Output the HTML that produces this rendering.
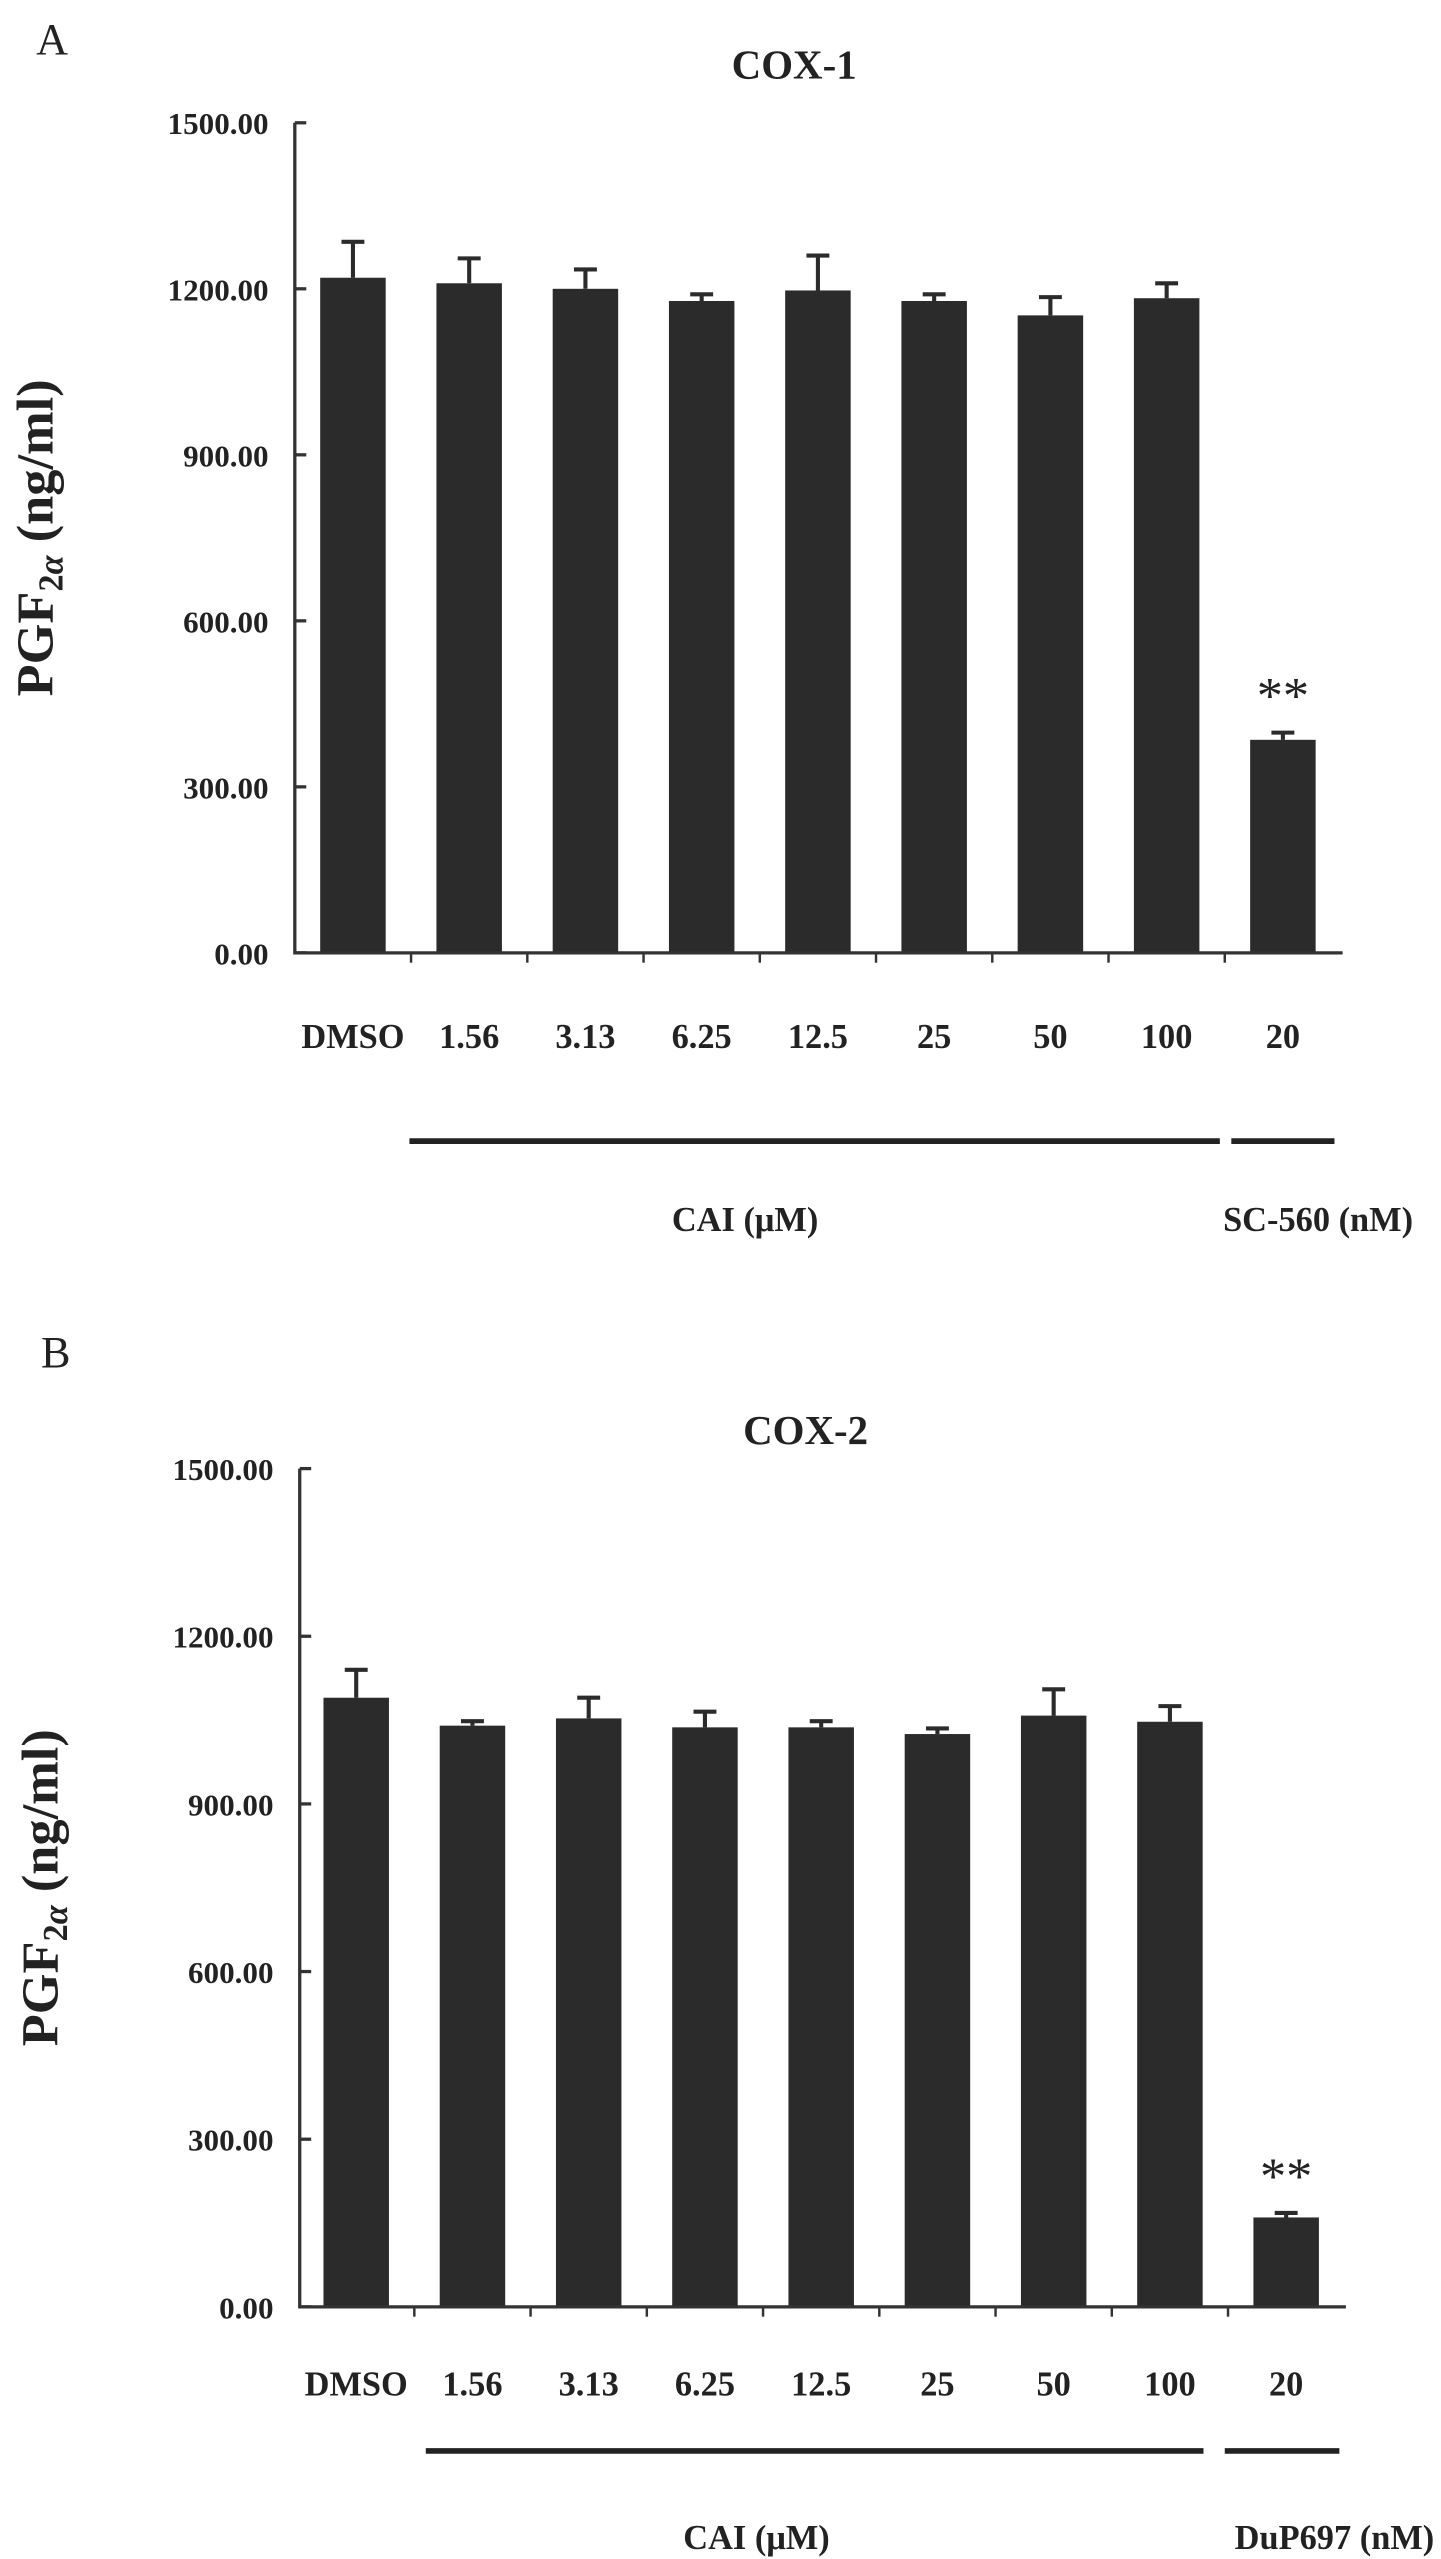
<!DOCTYPE html>
<html><head><meta charset="utf-8"><style>
html,body{margin:0;padding:0;background:#fff;}
svg{display:block;font-family:"Liberation Serif",serif;}
</style></head><body>
<svg id="fig" width="1441" height="2559" viewBox="0 0 880 1563"></svg>
<script>
const categories=["DMSO","1.56","3.13","6.25","12.5","25","50","100","20"];
const cox1Values=[1220,1210,1200,1178,1197,1178,1152,1183,385];
const cox1Errors=[65,45,35,12,63,12,33,27,13];
const cox2Values=[1090,1040,1053,1037,1037,1025,1058,1047,160];
const cox2Errors=[50,8,37,28,11,10,47,28,8];
const yTicks=[0,300,600,900,1200,1500];
const yTickLabels=["0.00","300.00","600.00","900.00","1200.00","1500.00"];
const NS="http://www.w3.org/2000/svg";
const svg=document.getElementById('fig');
function mk(tag,attrs,parent){const e=document.createElementNS(NS,tag);for(const k in attrs)e.setAttribute(k,attrs[k]);(parent||svg).appendChild(e);return e;}
function txt(x,y,s,size,extra,parent){const t=mk('text',Object.assign({x:x,y:y,'font-size':size,'text-anchor':'middle','font-weight':'bold',fill:'#222'},extra||{}),parent);t.textContent=s;return t;}
function panel(cfg){
  const g=mk('g',{});
  
  
  const y=v=>cfg.y0-(v/1500)*(cfg.y0-cfg.y1500);
  const x=i=>cfg.x0+cfg.step*(i+0.5);
  const l=txt(cfg.lx,cfg.ly,cfg.letter,27,{'font-weight':'normal','text-anchor':'start'},g);
  
  const t=txt(cfg.tx,cfg.ty,cfg.title,25,{},g);
  
  const yt=txt(0,0,'',32,{transform:`translate(${cfg.axX-148},${(cfg.y0+cfg.y1500)/2}) rotate(-90)`},g);
  
  yt.innerHTML='PGF<tspan font-size="21" dy="6">2</tspan><tspan font-size="21" dy="0" font-style="italic">α</tspan><tspan dy="-6"> (ng/ml)</tspan>';
  cfg.values.forEach((v,i)=>{
    const bw=40;
    const b=mk('rect',{x:x(i)-bw/2,y:y(v),width:bw,height:cfg.y0-y(v),fill:'#2b2b2b'},g);
    
    
    const e=mk('path',{d:`M${x(i)},${y(v)} V${y(v+cfg.errors[i])} M${x(i)-7},${y(v+cfg.errors[i])} H${x(i)+7}`,stroke:'#2b2b2b','stroke-width':2.5,fill:'none'},g);
    
    
    const c=txt(x(i),cfg.catY,categories[i],21,{},g);
    
    
    if(i>0){mk('line',{x1:cfg.x0+cfg.step*i,x2:cfg.x0+cfg.step*i,y1:cfg.y0,y2:cfg.y0+6,stroke:'#333','stroke-width':1.5},g);}
  });
  const ax=mk('path',{d:`M${cfg.axX},${y(1500)} V${cfg.y0} H${cfg.axEnd}`,stroke:'#333','stroke-width':2,fill:'none'},g);
  
  yTicks.forEach((v,i)=>{
    mk('line',{x1:cfg.axX,x2:cfg.axX+7,y1:y(v),y2:y(v),stroke:'#333','stroke-width':2},g);
    const tl=txt(cfg.axX-16,y(v)+7,yTickLabels[i],19,{'text-anchor':'end'},g);
    
  });
  const s=txt(x(8),y(cfg.values[8]+cfg.errors[8])-12,'**',32,{'font-weight':'normal'},g);
  
  mk('line',{x1:cfg.g1[0],x2:cfg.g1[1],y1:cfg.gY,y2:cfg.gY,stroke:'#222','stroke-width':3.5},g);
  mk('line',{x1:cfg.g2[0],x2:cfg.g2[1],y1:cfg.gY,y2:cfg.gY,stroke:'#222','stroke-width':3.5},g);
  const g1=txt(cfg.l1x,cfg.lY,'CAI (μM)',21,{},g);
  
  const g2=txt(cfg.l2x,cfg.lY,cfg.g2label,21,{},g);
  
}
panel({name:'panel-a-cox1',letter:'A',lx:22,ly:33,title:'COX-1',tx:485,ty:48,values:cox1Values,errors:cox1Errors,
  y0:582,y1500:75,axX:180,axEnd:820,x0:180,step:71,catY:640,gY:697,g1:[250,745],g2:[752,815],l1x:455,l2x:805,lY:752,g2label:'SC-560 (nM)'});
panel({name:'panel-b-cox2',letter:'B',lx:25,ly:835,title:'COX-2',tx:492,ty:882,values:cox2Values,errors:cox2Errors,
  y0:1409,y1500:897,axX:183,axEnd:822,x0:182,step:71,catY:1463,gY:1497,g1:[260,735],g2:[748,818],l1x:462,l2x:815,lY:1563-6,g2label:'DuP697 (nM)'});
</script>
</body></html>
